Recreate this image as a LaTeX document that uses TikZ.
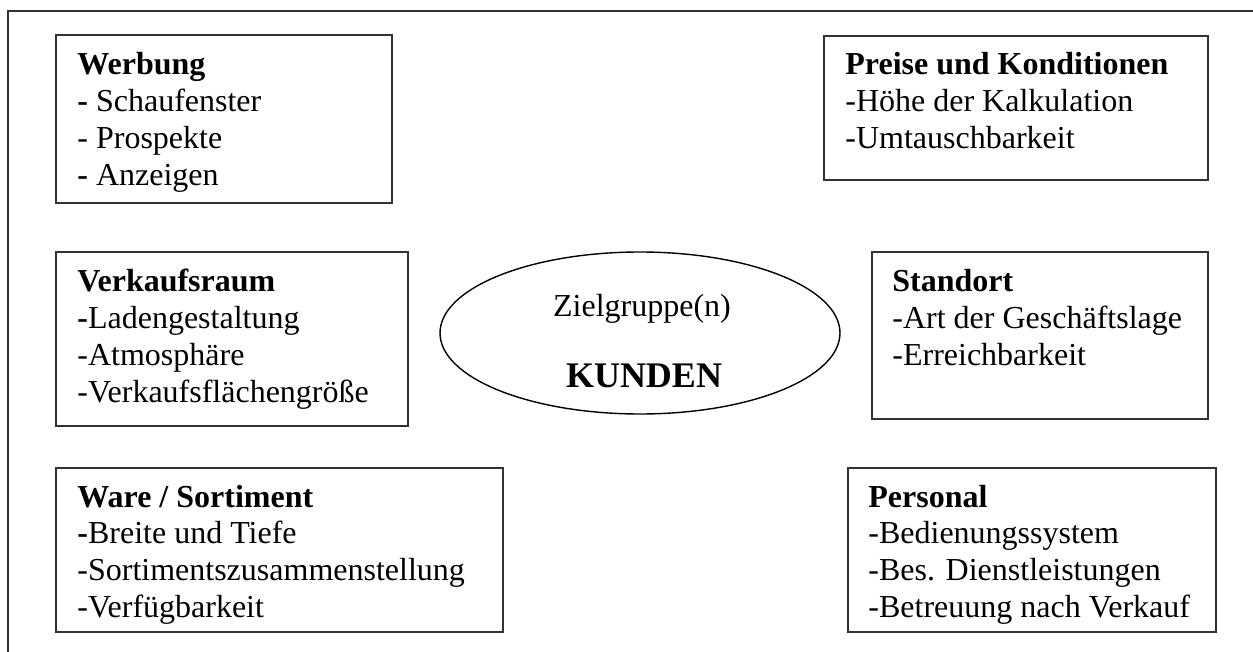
\documentclass[tikz,border=0pt]{standalone}
\usepackage{fontspec}
\setmainfont{Liberation Serif}
\usetikzlibrary{shapes.geometric}
\tikzset{
  frameline/.style={draw=black!80, line width=0.8pt},
  boxframe/.style={draw=black!80, line width=0.8pt, inner sep=0pt, outer sep=0pt, anchor=north west},
  boxtext/.style={anchor=base west, inner sep=0pt, font=\fontsize{16}{18.4}\selectfont},
  ovaltext/.style={anchor=base, inner sep=0pt},
}
\newcommand{\ltab}[1]{\begin{tabular}[t]{@{}l@{}}#1\end{tabular}}
\begin{document}
\begin{tikzpicture}[x=0.5pt,y=-0.5pt]
\useasboundingbox (0,0) rectangle (1253,652);
\coordinate (fa) at (1253,11);
\coordinate (fb) at (8,11);
\coordinate (fc) at (8,652);
\draw[frameline] (fa) -- (fb) -- (fc);

\node[boxframe, minimum width=168pt, minimum height=84pt] (werbung) at (56,35) {};
\node[boxtext] (werbungT) at (77,75) {\ltab{\textbf{Werbung}\\ \textbf{-} Schaufenster\\ - Prospekte\\ \textbf{-} Anzeigen}};

\node[boxframe, minimum width=192pt, minimum height=72pt] (preise) at (824,36) {};
\node[boxtext] (preiseT) at (845,75) {\ltab{\textbf{Preise und Konditionen}\\ -Höhe der Kalkulation\\ -Umtauschbarkeit}};

\node[boxframe, minimum width=176pt, minimum height=87pt] (raum) at (56,252) {};
\node[boxtext] (raumT) at (77,292) {\ltab{\textbf{Verkaufsraum}\\ \textbf{-}Ladengestaltung\\ -Atmosphäre\\ -Verkaufsflächengröße}};

\node[boxframe, minimum width=168pt, minimum height=83.5pt] (standort) at (872,252) {};
\node[boxtext] (standortT) at (892,292) {\ltab{\textbf{Standort}\\ -Art der Geschäftslage\\ -Erreichbarkeit}};

\node[boxframe, minimum width=223.5pt, minimum height=82pt] (ware) at (56,468) {};
\node[boxtext] (wareT) at (77,507) {\ltab{\textbf{Ware / Sortiment}\\ \textbf{-}Breite und Tiefe\\ -Sortimentszusammenstellung\\ -Verfügbarkeit}};

\node[boxframe, minimum width=184pt, minimum height=82pt] (personal) at (848,468) {};
\node[boxtext] (personalT) at (868,507) {\ltab{\textbf{Personal}\\ -Bedienungssystem\\ -Bes. Dienstleistungen\\ -Betreuung nach Verkauf}};

\node[ellipse, draw=black, line width=0.7pt, minimum width=200pt, minimum height=81pt, inner sep=0pt] (kunden) at (640,333) {};
\node[ovaltext, font=\fontsize{16}{18.4}\selectfont] (ziel) at (642,316) {Zielgruppe(n)};
\node[ovaltext, font=\fontsize{18}{20}\selectfont\bfseries] (kundenT) at (644,387) {KUNDEN};
\end{tikzpicture}
\end{document}
